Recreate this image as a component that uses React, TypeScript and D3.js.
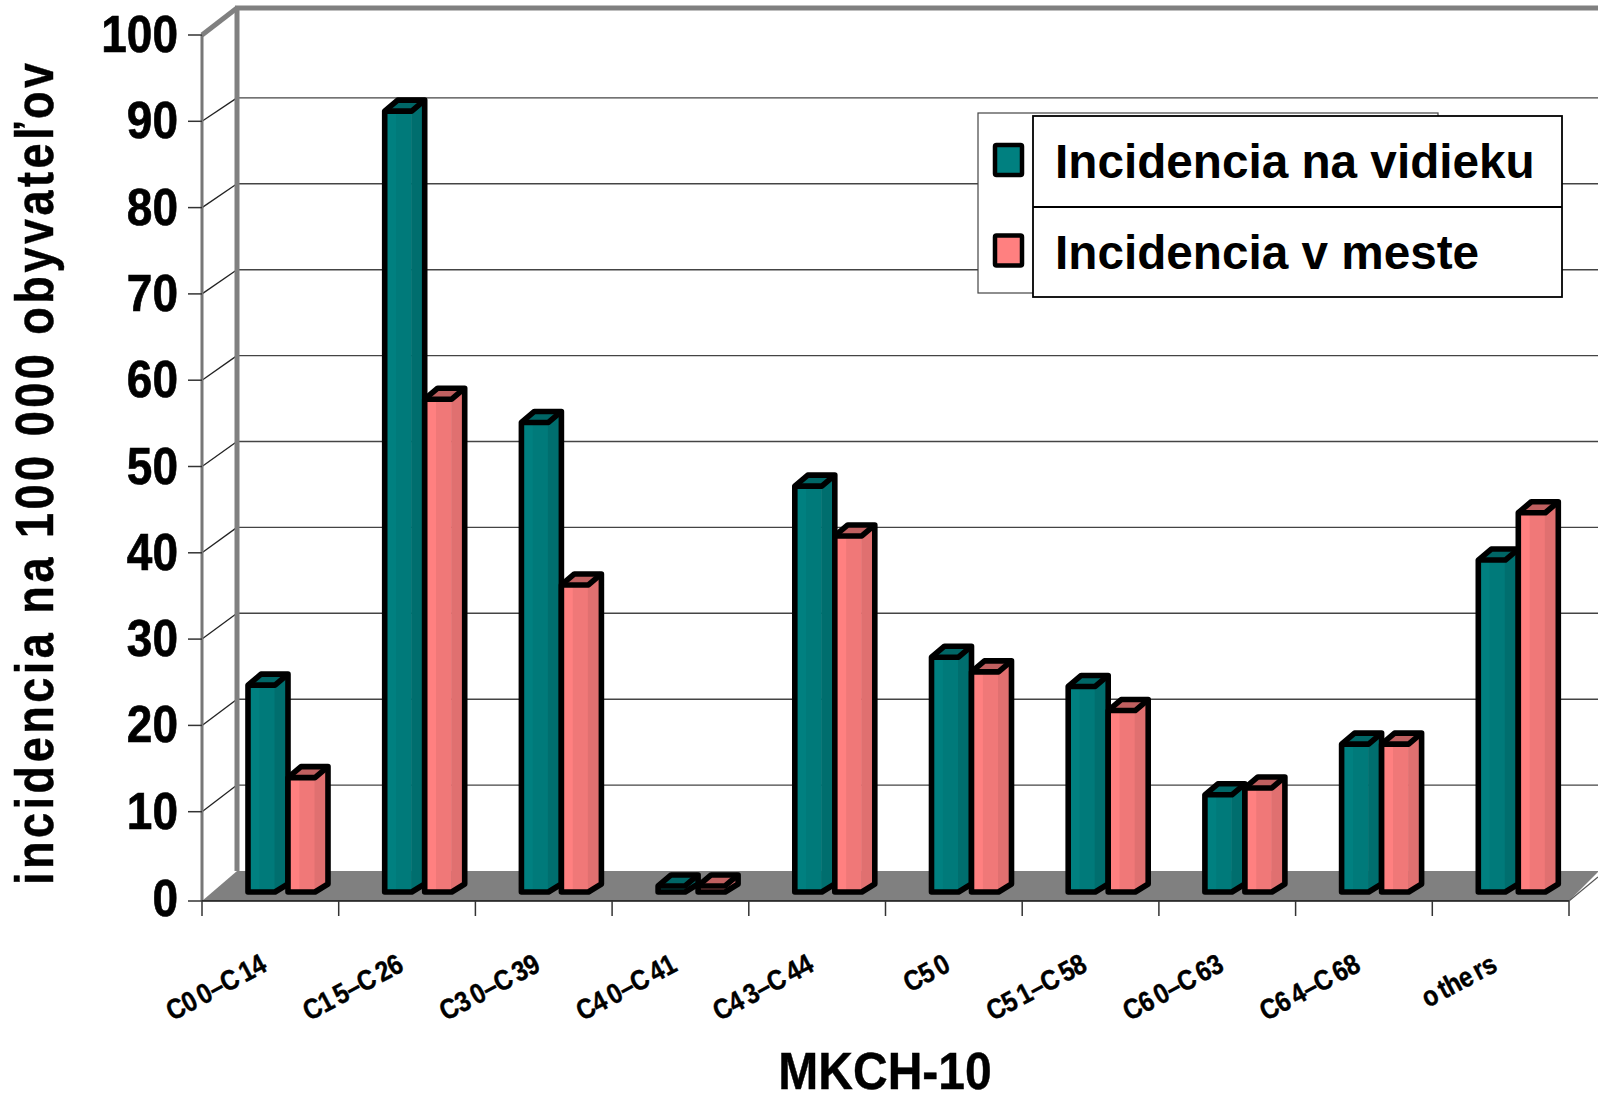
import React from "react";
import * as d3 from "d3";

const categories = ["C00–C14","C15–C26","C30–C39","C40–C41","C43–C44","C50","C51–C58","C60–C63","C64–C68","others"];
const rural = [24.05,90.8,54.6,0.7,47.2,27.3,23.9,11.3,17.2,38.6];
const urban = [13.3,57.3,35.7,0.7,41.4,25.6,21.1,12.1,17.2,44.1];
const yTicks = [0,10,20,30,40,50,60,70,80,90,100];
const legendLabels = ["Incidencia na vidieku","Incidencia v meste"];
const yTitle = "incidencia na 100 000 obyvateľov";
const xTitle = "MKCH-10";

const W = 1598, H = 1095;
const xFront = d3.scaleLinear().domain([0,10]).range([202,1569]);
const yFront = d3.scaleLinear().domain([0,100]).range([898,35]);
const yBack = d3.scaleLinear().domain([0,100]).range([871,12]);
const yBar = d3.scaleLinear().domain([0,100]).range([892,32]);
const backX = 237, floorFront = 901, floorBack = 871;
const FONT = "'Liberation Sans', Arial, sans-serif";
const barW = 27, depthX = 13, depthTop = 11, depthBase = 8;

const palettes = [
  { a:"#008080", b:"#007a7a", side:"#006e6e", top:"#006666" },
  { a:"#FF8080", b:"#F07878", side:"#E07070", top:"#C06060" },
];

function Bar({x,v,p}:{x:number;v:number;p:typeof palettes[0]}){
  const y0 = yBar(0), y1 = yBar(v);
  const pts = (a:number[][]) => a.map(d=>d.join(",")).join(" ");
  const stroke = {fill:"none",stroke:"#000",strokeWidth:5.6,strokeLinejoin:"round" as const};
  return <g>
    <rect x={x} y={y1} width={barW} height={y0-y1} fill={p.b}/>
    <rect x={x} y={y1} width={barW*0.42} height={y0-y1} fill={p.a}/>
    <polygon points={pts([[x+barW-0.5,y0],[x+barW+depthX,y0-depthBase],[x+barW+depthX,y1-depthTop],[x+barW-0.5,y1]])} fill={p.side}/>
    <polygon points={pts([[x,y1],[x+depthX,y1-depthTop],[x+barW+depthX,y1-depthTop],[x+barW,y1]])} fill={p.top}/>
    <polygon points={pts([[x,y0],[x+barW,y0],[x+barW+depthX,y0-depthBase],[x+barW+depthX,y1-depthTop],[x+depthX,y1-depthTop],[x,y1]])} {...stroke}/>
    <path d={`M${x},${y1}H${x+barW}L${x+barW+depthX},${y1-depthTop}`} {...stroke}/>
  </g>;
}

// the reference's labels have uneven glyph gaps; dx per glyph reproduces them
function spaced(label:string){
  const gaps = label.length===7 ? [2,5] : label.length===3 ? [2] : [1,4];
  return label.split("").map((ch,i)=><tspan key={i} dx={gaps.includes(i)?3.5:-0.4}>{ch}</tspan>);
}

export default function App(){
  return <svg width={W} height={H} viewBox={`0 0 ${W} ${H}`} style={{position:"absolute",left:0,top:0,background:"#fff"}} fontFamily={FONT}>
    {/* floor */}
    <polygon points={`${xFront(0)},${floorFront} ${backX},${floorBack} ${W},${floorBack} ${W},${floorFront-24-5} ${xFront(10)},${floorFront}`} fill="#808080"/>
    {/* gridlines */}
    {yTicks.filter(t=>t>0&&t<100).map(t=><g key={t}>
      <line x1={backX} x2={W} y1={yBack(t)} y2={yBack(t)} stroke="#444" strokeWidth={1.4}/>
      <line x1={xFront(0)} x2={backX} y1={yFront(t)} y2={yBack(t)} stroke="#222" strokeWidth={1.3}/>
    </g>)}
    {/* walls */}
    <line x1={backX} x2={backX} y1={8} y2={floorBack} stroke="#808080" strokeWidth={5}/>
    <line x1={backX-2} x2={W} y1={8} y2={8} stroke="#808080" strokeWidth={5}/>
    <line x1={xFront(0)} x2={backX} y1={yFront(100)} y2={8} stroke="#808080" strokeWidth={5}/>
    <line x1={xFront(0)} x2={xFront(0)} y1={yFront(100)} y2={floorFront} stroke="#777" strokeWidth={3}/>
    {/* axis */}
    <line x1={xFront(0)} x2={xFront(10)} y1={floorFront} y2={floorFront} stroke="#111" strokeWidth={1.5}/>
    <line x1={xFront(10)} x2={W} y1={floorFront} y2={floorFront-24} stroke="#555" strokeWidth={1.2}/>
    {d3.range(0,11).map(i=><line key={i} x1={xFront(i)} x2={xFront(i)} y1={floorFront} y2={floorFront+15} stroke="#333" strokeWidth={1.5}/>)}
    {yTicks.map(t=>{
      const y = t===0?floorFront:yFront(t);
      return <g key={t}>
        <line x1={xFront(0)-14} x2={xFront(0)} y1={y} y2={y} stroke="#333" strokeWidth={1.5}/>
        <text transform={`translate(178,${y+(t===0?15:17)}) scale(1,1.14)`} textAnchor="end" fontSize={46} fontWeight={700} stroke="#000" strokeWidth={0.6}>{t}</text>
      </g>;
    })}
    {/* bars */}
    {categories.map((c,i)=><g key={c}>
      <Bar x={xFront(i)+46} v={rural[i]} p={palettes[0]}/>
      <Bar x={xFront(i)+46+40} v={urban[i]} p={palettes[1]}/>
    </g>)}
    {/* category labels */}
    {categories.map((c,i)=><text key={c} transform={`translate(${xFront(i)+67},970) rotate(-28) scale(1,1.15)`} textAnchor="end" fontSize={24.5} fontWeight={700} stroke="#000" strokeWidth={0.35}>{spaced(c)}</text>)}
    {/* titles */}
    <text transform="translate(53,885) rotate(-90) scale(1,1.2)" fontSize={45} fontWeight={700} textLength={822} lengthAdjust="spacing" stroke="#000" strokeWidth={0.4}>{yTitle}</text>
    <text transform="translate(885,1089) scale(1,1.08)" textAnchor="middle" fontSize={48} fontWeight={700} stroke="#000" strokeWidth={0.4}>{xTitle}</text>
    {/* legend */}
    <rect x={978} y={113} width={460} height={180} fill="#fff" stroke="#444" strokeWidth={1.2}/>
    <rect x={1033} y={116} width={529} height={181} fill="#fff" stroke="#000" strokeWidth={1.8}/>
    <line x1={1033} x2={1562} y1={207} y2={207} stroke="#000" strokeWidth={2}/>
    {legendLabels.map((l,i)=><g key={l}>
      <rect x={995} y={145+i*90.5} width={27} height={30} rx={1.5} fill={palettes[i].a} stroke="#000" strokeWidth={4.5}/>
      <text x={1055} y={178+i*91} fontSize={47.7} fontWeight={700}>{l}</text>
    </g>)}
  </svg>;
}
